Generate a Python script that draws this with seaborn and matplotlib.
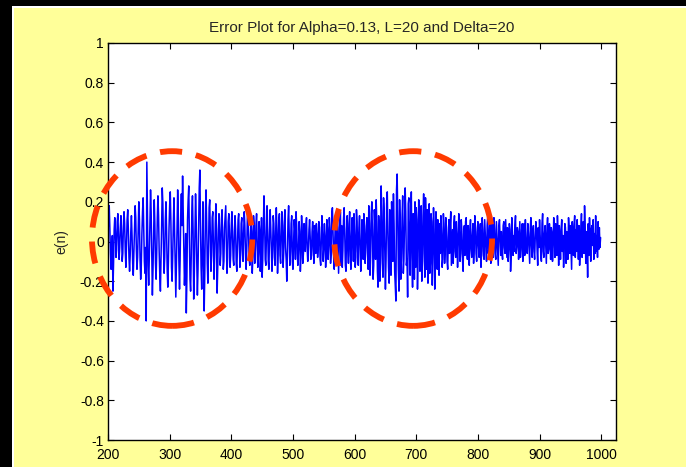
import numpy as np
import pandas as pd
import matplotlib
matplotlib.use("Agg")
import matplotlib.pyplot as plt
from matplotlib.patches import Ellipse, Rectangle
from matplotlib.transforms import Bbox
import seaborn as sns

# error samples e(n), hundredths (n = 200 .. 999)
seg_a = [  # n 200-439
    4, 12, 18, 7, -6, -14, -9, 3, -25, -11, 6, 12, 5, -8, -4, 10, 14, 2, -9, -3,
    7, 13, 4, -10, -6, 8, 15, 9, -5, -13, -2, 11, 16, 6, -8, -15, -7, 5, 13, 3,
    -11, -17, -5, 9, 18, 12, -4, -14, -8, 6, 20, 11, -9, -19, -12, 4, 15, 22, 7, -10,
    -16, -3, -40, 40, 14, -12, -22, -8, 10, 26, 15, -6, -27, -14, 5, 21, 9, -11, -19, -6,
    12, 23, 13, -5, -17, -25, -9, 8, 27, 19, -3, -16, -8, 11, 20, 6, -14, -23, -10, 7,
    18, 25, 10, -13, -20, -7, 9, 22, 5, -15, -28, -12, 6, 26, 14, -10, -24, -9, 13, 24,
    8, 33, 15, -6, -22, -13, 4, -36, -18, 11, 21, 28, 2, -19, -25, -8, 15, 23, 6, -29,
    -17, 4, 24, 12, -10, -27, -14, 7, 27, 36, 9, -13, -24, -6, 20, -9, -35, -16, 13, 26,
    10, -11, -21, -5, 17, 21, 4, -15, -7, 12, 15, -3, -19, -8, 9, 19, 2, -26, -13, 6,
    14, 5, -12, -6, 11, 16, 3, -14, -10, 7, 13, 18, -2, -16, -8, 10, 14, 4, -13, -7,
    8, 15, 2, -9, -12, 5, 13, 6, -11, -15, -3, 11, 14, -1, -13, -7, 9, 12, -4, -10,
    4, 15, 8, -6, -14, -5, 12, 16, 3, -9, -12, 2, 10, 5, -16, -7, 13, 9, -11, -4,
]
seg_b = [  # n 440-619
    8, 14, -2, -13, -6, 10, 6, -15, -8, 12, -18, -9, 7, 23, 11, -9, -12, 4, 18, 6,
    -10, -14, 3, 16, 7, -5, -15, -4, 13, 9, -8, -12, 5, 17, 6, -16, -6, 10, 14, -7,
    -11, 2, 15, 8, -13, -6, 10, 16, -3, -9, -20, -7, 11, 18, 4, -12, -5, 9, 13, -10,
    -14, -2, 11, 6, -9, 15, 8, -6, -12, -4, 10, 5, -15, -8, 13, 4, -11, -6, 9, 3,
    -5, 8, 12, -3, -10, -4, 6, 11, 2, -9, -7, 5, 10, -4, -11, 8, 3, -6, 9, 4,
    -8, -3, 10, 7, -9, -12, 1, 13, 5, -10, -4, 9, 3, -13, -6, 11, 7, -9, -2, 12,
    6, -11, -6, 14, 17, 5, -8, -14, 2, 10, -5, -10, 12, 7, -16, -4, 9, 15, -12, 8,
    -13, -4, 11, 17, 4, -12, -15, 6, 13, -3, -11, 9, 15, -7, -14, 2, 12, 5, -10, 14,
    3, -13, -8, 16, 10, -5, -12, 7, 13, -2, -15, -6, 11, 4, -9, 14, 6, -11, -3, 8,
]
seg_c = [  # n 620-739
    12, -6, -14, 18, 9, -17, -8, 14, 20, 3, -19, -12, 16, 8, -9, 21, 10, -15, -23, 13,
    6, -20, -7, 28, 15, -11, -18, 22, 14, -5, -24, -9, 19, 25, 4, -13, -21, 16, 3, -17,
    20, 11, -10, 24, 9, -15, -22, -30, 26, 34, 12, -14, -25, 21, 8, -19, -6, 12, 23, -16,
    -9, 8, 27, 15, -12, -9, -28, 19, 22, -4, -17, 10, 25, -8, -23, 14, 6, -19, 20, -13,
    17, 11, -24, -7, 21, 15, -15, 5, 18, -20, -10, 13, 24, -6, -18, 22, 9, -14, 16, -21,
    7, 19, -16, -11, 14, 10, -22, -5, 17, 6, -24, -12, 15, 8, -14, 11, 6, -17, 9, -6,
]
seg_d = [  # n 740-999
    13, 4, -13, -9, 14, 9, -11, -4, 12, 7, -10, -14, 2, 11, -6, 8, 15, -12, -3, 6,
    -11, 9, 13, -5, -8, 10, 3, -13, -2, 14, 7, -10, -6, 11, 5, -9, -15, 4, 8, -7,
    10, 12, -5, -9, 8, 2, -12, 6, 11, -4, -8, 3, 9, -11, -3, 13, 7, -6, -10, 5,
    10, -2, -8, 4, 9, -13, -5, 12, 6, -7, -9, 11, 3, -4, -10, 8, 13, -6, -3, 7,
    12, -11, -5, 9, 5, -8, 12, 6, -6, -9, 10, 3, -4, -12, 8, 11, 1, -7, 5, -5,
    -9, 8, 10, -3, -6, 11, 2, -8, 7, -10, -4, 9, 6, -15, -7, 12, 5, -7, 3, -5,
    8, 13, -6, -3, 7, 5, -9, 1, 10, -8, -4, 6, 9, -10, 3, 9, -7, 11, 2, -5,
    -6, 9, 4, -3, -11, 7, 12, -2, -8, 5, 8, -5, -9, 2, 10, 6, -4, -12, 7, -3,
    11, 3, -7, -10, 9, 14, -5, -8, 4, 8, -2, -11, 6, 12, -6, -4, 9, 2, -9, 7,
    5, -10, -3, 12, 6, -8, 9, -3, -7, 13, 4, -12, 8, 2, -9, 6, 11, -5, 3, -13,
    -4, 9, 7, -11, 5, 1, -9, 12, 6, -6, 8, -3, -14, 10, 4, -7, 9, 13, -8, 6,
    -5, 11, 3, -9, 8, -12, -4, 6, 14, -8, 2, 10, -6, 18, 7, -11, 5, -3, -18, 9,
    -7, 12, 4, -10, 6, 8, -2, 11, -9, 4, -6, 13, -5, 3, -8, 10, -4, 7, -3, 2,
]
n_start = 200

# highlighted regions (centre n, centre e, width, height)
circle_x = [304, 695]
circle_y = [0.015, 0.015]
circle_w = [260, 256]
circle_h = [0.88, 0.88]

x_ticks = [200, 300, 400, 500, 600, 700, 800, 900, 1000]
y_ticks = [-1, -0.8, -0.6, -0.4, -0.2, 0, 0.2, 0.4, 0.6, 0.8, 1]
y_ticklabels = ["-1", "-0.8", "-0.6", "-0.4", "-0.2", "0", "0.2", "0.4", "0.6", "0.8", "1"]

err = np.array(seg_a + seg_b + seg_c + seg_d) / 100.0
df = pd.DataFrame({"n": np.arange(n_start, n_start + len(err)), "e": err})

sns.set_style("ticks")
plt.rcParams["font.family"] = ["Liberation Sans", "DejaVu Sans"]
plt.rcParams["axes.unicode_minus"] = False
plt.rcParams["savefig.bbox"] = "standard"

W, H = 6.86, 4.67
fig = plt.figure(figsize=(W, H), dpi=100)
fig.patch.set_facecolor("#FFFF99")

# yellow page with a black frame strip on the left and top, thin white edge
frame = [
    ((0, 0), 1, 1, "#FFFF99"),
    ((0, 0), 12 / 686, 1, "black"),
    ((0, 1 - 6 / 467), 1, 6 / 467, "black"),
    ((12 / 686, 0), 1.5 / 686, 1 - 6 / 467, "white"),
    ((12 / 686, 1 - 7.5 / 467), 1 - 12 / 686, 1.5 / 467, "white"),
]
for xy, w, h, c in frame:
    fig.add_artist(Rectangle(xy, w, h, transform=fig.transFigure,
                             facecolor=c, edgecolor="none", zorder=-10))

ax = fig.add_axes([108 / 686, 1 - 440 / 467, 508 / 686, 397 / 467])
ax.set_facecolor("white")

sns.lineplot(data=df, x="n", y="e", color="#0000FF", linewidth=1.1, ax=ax)

for cx, cy, w, h in zip(circle_x, circle_y, circle_w, circle_h):
    ax.add_patch(Ellipse((cx, cy), w, h, fill=False, edgecolor="#FF3A00",
                         linewidth=4.2, linestyle=(0, (3.8, 2.4)), clip_on=False, zorder=5))

ax.set_xlim(200, 1024)
ax.set_ylim(-1, 1)
ax.set_xticks(x_ticks)
ax.set_yticks(y_ticks)
ax.set_yticklabels(y_ticklabels)
ax.tick_params(direction="in", length=4, width=0.8, top=True, right=True,
               labelsize=10, colors="black", pad=3)
ax.tick_params(axis="x", pad=6)
for s in ax.spines.values():
    s.set_visible(True)
    s.set_color("black")
    s.set_linewidth(1.0)

ax.set_xlabel("")
ax.set_ylabel("e(n)", fontsize=10, labelpad=8)
ax.set_title("Error Plot for Alpha=0.13, L=20 and Delta=20", fontsize=11, pad=8)

fig.savefig("out.png", dpi=100, facecolor=fig.get_facecolor(),
            bbox_inches=Bbox([[0, 0], [W, H]]))
